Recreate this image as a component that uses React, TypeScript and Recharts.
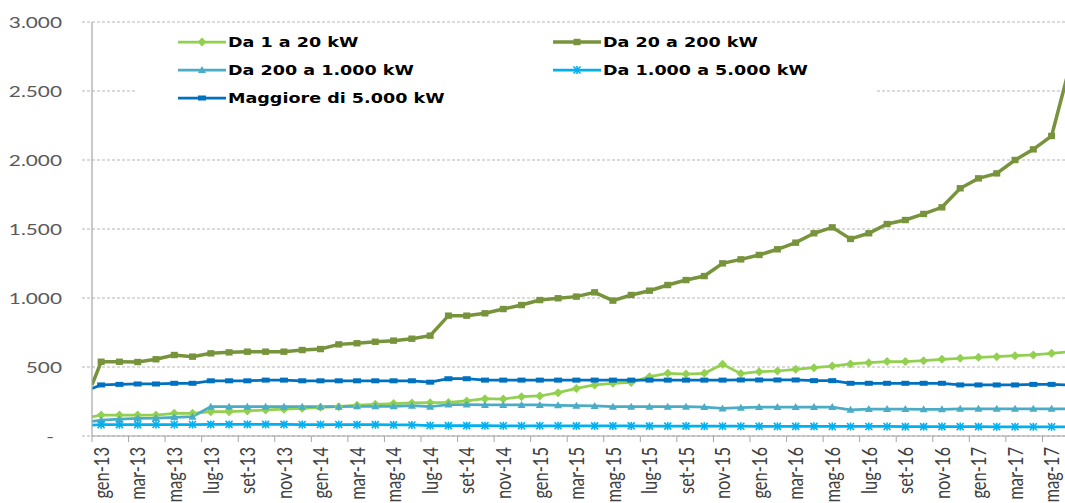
import React from 'react';
import { LineChart, Line, XAxis, YAxis, CartesianGrid, Legend } from 'recharts';

// ---------- DATA ----------
const months = [
  'gen-13','feb-13','mar-13','apr-13','mag-13','giu-13','lug-13','ago-13','set-13','ott-13','nov-13','dic-13',
  'gen-14','feb-14','mar-14','apr-14','mag-14','giu-14','lug-14','ago-14','set-14','ott-14','nov-14','dic-14',
  'gen-15','feb-15','mar-15','apr-15','mag-15','giu-15','lug-15','ago-15','set-15','ott-15','nov-15','dic-15',
  'gen-16','feb-16','mar-16','apr-16','mag-16','giu-16','lug-16','ago-16','set-16','ott-16','nov-16','dic-16',
  'gen-17','feb-17','mar-17','apr-17','mag-17','giu-17',
];

const da1a20 = [
  152,152,152,152,164,164, 176,176,182,189,194,201, 208,212,223,230,235,240,
  241,243,254,270,268,285, 290,314,345,370,382,388, 430,454,449,454,520,452,
  466,471,483,495,507,522, 531,539,539,546,556,563, 570,575,582,587,599,612,
];
const da20a200 = [
  538,538,536,556,587,575, 599,606,611,611,611,623, 630,664,672,683,691,705,
  727,872,872,889,920,949, 985,998,1010,1041,981,1022, 1053,1094,1130,1159,1251,1280,
  1312,1353,1401,1469,1512,1428, 1469,1536,1565,1609,1657,1795, 1867,1903,2000,2077,2174,2680,
];
const da200a1000 = [
  115,122,128,130,135,140, 212,212,212,212,212,212, 212,212,215,215,215,220,
  212,228,228,225,225,225, 225,222,220,218,212,212, 212,212,212,210,200,205,
  210,210,210,210,210,190, 195,195,195,193,193,197, 197,197,197,197,197,197,
];
const da1000a5000 = [
  82,82,82,83,83,83, 84,84,84,84,84,83, 83,83,82,82,81,80,
  76,75,75,75,74,74, 74,74,73,73,73,73, 72,72,72,71,71,71,
  70,70,70,70,69,69, 69,69,68,68,68,68, 68,67,67,67,67,67,
];
const oltre5000 = [
  370,374,377,377,382,382, 400,400,400,405,405,400, 400,400,400,400,400,400,
  390,415,415,405,405,405, 405,405,405,405,405,405, 405,405,405,405,405,406,
  406,406,406,401,401,382, 382,382,382,382,382,370, 370,370,370,374,374,368,
];

// value of each series at the left edge of the plot (line starts on the axis)
const originValues = [138, 370, 105, 78, 345];

const seriesNames = [
  'Da 1 a 20 kW',
  'Da 20 a 200 kW',
  'Da 200 a 1.000 kW',
  'Da 1.000 a 5.000 kW',
  'Maggiore di 5.000 kW',
];
const seriesValues = [da1a20, da20a200, da200a1000, da1000a5000, oltre5000];

const yTicks = [0, 500, 1000, 1500, 2000, 2500, 3000];

// ---------- STYLE ----------
const seriesColors = ['#92d050', '#77933c', '#4bacc6', '#00b0f0', '#0070c0'];
const seriesMarkers = ['diamond', 'square', 'triangle', 'cross', 'dash'];
const seriesWidths = [2.75, 3.5, 2.75, 2.75, 2.75];
const legendSlots = [
  { left: 43, top: 7 },
  { left: 418, top: 7 },
  { left: 43, top: 35 },
  { left: 418, top: 35 },
  { left: 43, top: 63 },
];

const CHART_W = 1090;
const CHART_H = 503;
const MARGIN = { top: 22, right: 11, bottom: 0, left: 0 };
const Y_AXIS_W = 92;
const X_AXIS_H = 67;
const X_MIN = -0.5;
const X_MAX = months.length - 0.5;
const PLOT_W = CHART_W - MARGIN.left - MARGIN.right - Y_AXIS_W;
const HALF_STEP = PLOT_W / (X_MAX - X_MIN) / 2;
const AXIS_COLOR = '#a6a6a6';
const GRID_COLOR = '#b5b5b5';
const STRETCH = 1.3;

const keys = ['s0', 's1', 's2', 's3', 's4'];

const chartData = [
  Object.fromEntries([['x', X_MIN], ...keys.map((k, s) => [k, originValues[s]])]),
  ...months.map((m, i) =>
    Object.fromEntries([['x', i], ['month', m], ...keys.map((k, s) => [k, seriesValues[s][i]])])
  ),
];

const labelTicks = months.map((_, i) => i).filter((i) => i % 2 === 0);

const fmt = (v: number) => String(v).replace(/\B(?=(\d{3})+(?!\d))/g, '.');

function markerShape(shape: string, color: string, cx: number, cy: number, key?: string) {
  switch (shape) {
    case 'diamond':
      return <polygon key={key} points={`${cx},${cy - 4.5} ${cx + 4.5},${cy} ${cx},${cy + 4.5} ${cx - 4.5},${cy}`} fill={color} />;
    case 'square':
      return <rect key={key} x={cx - 3.5} y={cy - 3.2} width={7} height={6.4} fill={color} />;
    case 'triangle':
      return <polygon key={key} points={`${cx},${cy - 4} ${cx + 4},${cy + 3} ${cx - 4},${cy + 3}`} fill={color} />;
    case 'cross':
      return (
        <g key={key} stroke={color} strokeWidth={1.6}>
          <line x1={cx - 3.5} y1={cy - 3.5} x2={cx + 3.5} y2={cy + 3.5} />
          <line x1={cx - 3.5} y1={cy + 3.5} x2={cx + 3.5} y2={cy - 3.5} />
          <line x1={cx} y1={cy - 4} x2={cx} y2={cy + 4} />
        </g>
      );
    default:
      return <rect key={key} x={cx - 4} y={cy - 2.5} width={8} height={5} fill={color} />;
  }
}

const makeDot = (s: number) => (props: any) => {
  const { cx, cy, index } = props;
  const key = `dot-${s}-${index}`;
  if (index === 0 || cx == null || cy == null) return <g key={key} />;
  return markerShape(seriesMarkers[s], seriesColors[s], cx, cy, key);
};

const XTick = (props: any) => {
  const { x, y, payload } = props;
  const label = months[payload.value];
  const lx = x - HALF_STEP;
  return (
    <g>
      <line x1={lx} x2={lx} y1={y - 11} y2={y - 5} stroke={AXIS_COLOR} strokeWidth={1} />
      <text
        transform={`translate(${x},${y}) rotate(-90) scale(1,${STRETCH})`}
        textAnchor="end"
        dy="0.36em"
        fontFamily="Lato, 'Open Sans', sans-serif"
        fontSize={16.5}
        fill="#404040"
      >
        {label}
      </text>
    </g>
  );
};

const YTick = (props: any) => {
  const { x, y, payload } = props;
  const v = payload.value;
  const txt = v === 0 ? '-' : fmt(v);
  const tx = v === 0 ? x - 8 : x;
  return (
    <text
      transform={`translate(${tx},${y}) scale(${STRETCH},1)`}
      textAnchor="end"
      dy="0.36em"
      fontFamily="Lato, 'Open Sans', sans-serif"
      fontSize={16}
      fill="#595959"
    >
      {txt}
    </text>
  );
};

const LegendContent = () => (
  <div style={{ position: 'relative', width: '100%', height: '100%', background: '#ffffff' }}>
    {seriesNames.map((name, s) => (
      <div
        key={name}
        style={{
          position: 'absolute',
          left: legendSlots[s].left,
          top: legendSlots[s].top,
          height: 14,
          display: 'flex',
          alignItems: 'center',
          whiteSpace: 'nowrap',
        }}
      >
        <svg width={49} height={14} style={{ display: 'block' }}>
          <line x1={0} x2={48} y1={7} y2={7} stroke={seriesColors[s]} strokeWidth={seriesWidths[s]} />
          {markerShape(seriesMarkers[s], seriesColors[s], 24, 7)}
        </svg>
        <span
          style={{
            display: 'inline-block',
            marginLeft: 1,
            fontFamily: "'DejaVu Sans', Verdana, sans-serif",
            fontWeight: 'bold',
            fontSize: 13.5,
            lineHeight: '14px',
            color: '#000',
            transform: `scaleX(${STRETCH})`,
            transformOrigin: 'left center',
          }}
        >
          {name}
        </span>
      </div>
    ))}
  </div>
);

export default function App() {
  return (
    <div
      style={{
        position: 'fixed',
        left: 0,
        top: 0,
        width: 1065,
        height: 503,
        overflow: 'hidden',
        background: '#ffffff',
      }}
    >
      <LineChart width={CHART_W} height={CHART_H} data={chartData} margin={MARGIN}>
        <CartesianGrid horizontal vertical={false} stroke={GRID_COLOR} strokeDasharray="3 2" />
        <XAxis
          type="number"
          dataKey="x"
          domain={[X_MIN, X_MAX]}
          ticks={labelTicks}
          interval={0}
          allowDataOverflow
          height={X_AXIS_H}
          tickLine={false}
          tickSize={6}
          tickMargin={5}
          tick={<XTick />}
          axisLine={{ stroke: AXIS_COLOR, strokeWidth: 1.2 }}
        />
        <YAxis
          type="number"
          domain={[0, 3000]}
          ticks={yTicks}
          interval={0}
          width={Y_AXIS_W}
          tickSize={10}
          tickMargin={20}
          tickLine={{ stroke: GRID_COLOR, strokeDasharray: '3 2' }}
          tick={<YTick />}
          axisLine={{ stroke: AXIS_COLOR, strokeWidth: 1.2 }}
        />
        <Legend
          layout="vertical"
          align="center"
          verticalAlign="middle"
          content={<LegendContent />}
          wrapperStyle={{ left: 135, top: 28, width: 742, height: 84 }}
        />
        {keys.map((k, s) => (
          <Line
            key={k}
            type="linear"
            dataKey={k}
            name={seriesNames[s]}
            stroke={seriesColors[s]}
            strokeWidth={seriesWidths[s]}
            dot={makeDot(s)}
            activeDot={false}
            isAnimationActive={false}
          />
        ))}
      </LineChart>
    </div>
  );
}
